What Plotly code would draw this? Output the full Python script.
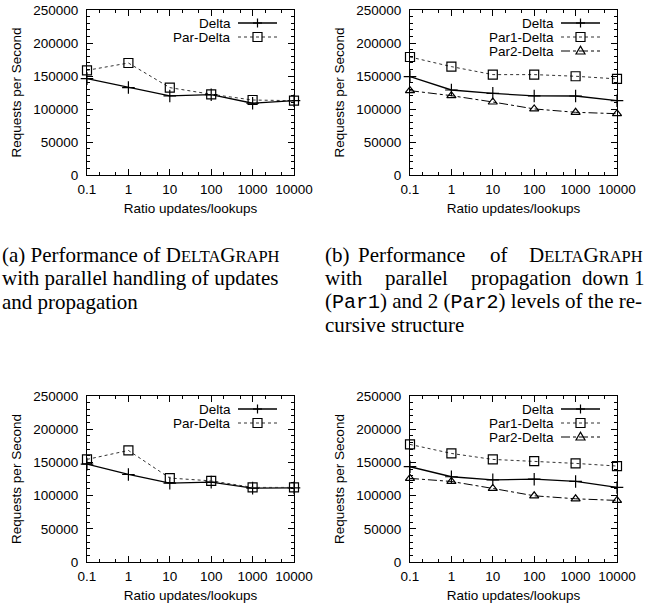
import plotly.graph_objects as go

# ---------------- data ----------------
ratio = [0.1, 1, 10, 100, 1000, 10000]
tick_labels = ["0.1", "1", "10", "100", "1000", "10000"]

# (a) top-left
a_delta = [146000, 132500, 119800, 121700, 108700, 112600]
a_par = [158600, 169700, 132400, 122300, 113600, 112600]

# (b) top-right
b_delta = [149000, 128800, 123700, 119800, 119700, 112600]
b_par1 = [178800, 164200, 152100, 152100, 149600, 145600]
b_par2 = [127800, 120200, 110600, 100100, 95000, 92900]

# (c) bottom-left
c_delta = [147400, 131800, 118800, 120300, 111300, 111700]
c_par = [154500, 168000, 126400, 122200, 112300, 112300]

# (d) bottom-right
d_delta = [143500, 128400, 123800, 124700, 121300, 112300]
d_par1 = [177100, 163500, 154500, 152000, 148500, 144500]
d_par2 = [125900, 121300, 110800, 99700, 95200, 92700]

W, H = 646, 607
SANS = "Liberation Sans, Arial, sans-serif"
SERIF = "Liberation Serif, Times New Roman, serif"

# plot-area boxes in pixels: (left, right, top, bottom)
boxes = [
    (87, 294, 10, 175),
    (410, 617, 10, 175),
    (87, 294, 396, 562),
    (410, 617, 396, 562),
]

fig = go.Figure()

styles = {
    "Delta": dict(line=dict(color="black", width=1.3, dash="solid"),
                  marker=dict(symbol="cross-thin", size=9, color="black",
                              line=dict(color="black", width=1.2))),
    "Par": dict(line=dict(color="#333333", width=1, dash="dot"),
                marker=dict(symbol="square-open", size=9, color="black",
                            line=dict(color="black", width=1.2))),
    "Par2": dict(line=dict(color="black", width=1, dash="dashdot"),
                 marker=dict(symbol="triangle-up-open", size=8, color="black",
                             line=dict(color="black", width=1.2))),
}

panels = [
    [("Delta", a_delta, "Delta"), ("Par-Delta", a_par, "Par")],
    [("Delta", b_delta, "Delta"), ("Par1-Delta", b_par1, "Par"), ("Par2-Delta", b_par2, "Par2")],
    [("Delta", c_delta, "Delta"), ("Par-Delta", c_par, "Par")],
    [("Delta", d_delta, "Delta"), ("Par1-Delta", d_par1, "Par"), ("Par2-Delta", d_par2, "Par2")],
]

shapes = []
annotations = []


def px_x(p):
    return p / W


def px_y(p):
    return 1 - p / H


def legend_entry(name, st, box, row):
    l, r, t, b = box
    yc = t + 13 + 14 * row
    s = styles[st]
    annotations.append(dict(
        text=name, x=px_x(r - 62), y=px_y(yc), xref="paper", yref="paper",
        xanchor="right", yanchor="middle", showarrow=False, height=14, borderpad=0,
        font=dict(family=SANS, size=13.5, color="black"),
    ))
    shapes.append(dict(
        type="line", xref="paper", yref="paper",
        x0=px_x(r - 56), x1=px_x(r - 17), y0=px_y(yc), y1=px_y(yc),
        line=dict(color=s["line"]["color"], width=s["line"]["width"], dash=s["line"]["dash"]),
    ))
    cx = px_x(r - 36.5)
    cy = px_y(yc)
    common = dict(xref="paper", yref="paper", xsizemode="pixel", ysizemode="pixel",
                  xanchor=cx, yanchor=cy, line=dict(color="black", width=1.2))
    if st == "Delta":
        shapes.append(dict(type="line", x0=-4.5, x1=4.5, y0=0, y1=0, **common))
        shapes.append(dict(type="line", x0=0, x1=0, y0=-4.5, y1=4.5, **common))
    elif st == "Par":
        shapes.append(dict(type="rect", x0=-4.5, x1=4.5, y0=-4.5, y1=4.5, **common))
    else:
        shapes.append(dict(type="path", path="M -4.5 -3 L 4.5 -3 L 0 4.8 Z", **common))


for i, (series, box) in enumerate(zip(panels, boxes)):
    n = "" if i == 0 else str(i + 1)
    for row, (name, vals, st) in enumerate(series):
        s = styles[st]
        fig.add_trace(go.Scatter(
            x=ratio, y=vals, name=name, mode="lines+markers",
            line=s["line"], marker=s["marker"], cliponaxis=False,
            xaxis="x" + n, yaxis="y" + n, showlegend=False,
        ))
        legend_entry(name, st, box, row)
    l, r, t, b = box
    xd = [l / W, r / W]
    yd = [1 - b / H, 1 - t / H]
    axcommon = dict(
        showline=True, linecolor="black", linewidth=1, mirror="ticks",
        ticks="inside", ticklen=6, tickcolor="black", tickwidth=1,
        showgrid=False, zeroline=False, automargin=False,
        tickfont=dict(family=SANS, size=13.5, color="black"),
    )
    fig.layout["xaxis" + n] = dict(
        axcommon, domain=xd, anchor="y" + n, type="log", range=[-1, 4],
        tickvals=ratio, ticktext=tick_labels, ticklabelstandoff=2,
        minor=dict(ticks="inside", ticklen=3, dtick="D2", tickcolor="black", showgrid=False),
        title=dict(text="Ratio updates/lookups", font=dict(family=SANS, size=13.5, color="black"), standoff=7),
    )
    fig.layout["yaxis" + n] = dict(
        axcommon, domain=yd, anchor="x" + n, range=[0, 250000],
        dtick=50000, tickformat="d", ticklabelstandoff=5,
        minor=dict(ticks="inside", ticklen=3, dtick=10000, tickcolor="black", showgrid=False),
        title=dict(text="Requests per Second", font=dict(family=SANS, size=13.5, color="black"), standoff=8),
    )

# ---------------- captions ----------------
SC = "font-size:16.5px"
DG = f"D<span style='{SC}'>ELTA</span>G<span style='{SC}'>RAPH</span>"
MONO = "font-family:Liberation Mono;font-size:20px"


def ann(text, px, py, anchor="left"):
    annotations.append(dict(
        text=text, x=px / W, y=1 - py / H, xref="paper", yref="paper",
        xanchor=anchor, yanchor="middle", showarrow=False, borderpad=0,
        font=dict(family=SERIF, size=21, color="black"),
    ))


# (a)
ann("(a) Performance of " + DG, 1, 254.5)
ann("with parallel handling of updates", 1, 278)
ann("and propagation", 1, 301.5)

# (b) justified lines
ann("(b)", 324, 254.5)
ann("Performance", 411.5, 254.5, "center")
ann("of", 499, 254.5, "center")
ann(DG, 644, 254.5, "right")
ann("with", 324, 278)
ann("parallel", 416, 278, "center")
ann("propagation", 521.5, 278, "center")
ann("down", 605, 278, "center")
ann("1", 646, 278, "right")
ann(f"(<span style='{MONO}'>Par1</span>) and 2 (<span style='{MONO}'>Par2</span>) levels of the re-", 324, 301.5)
ann("cursive structure", 324, 325)

fig.update_layout(
    width=W, height=H, margin=dict(l=0, r=0, t=0, b=0),
    paper_bgcolor="white", plot_bgcolor="white",
    showlegend=False, shapes=shapes, annotations=annotations,
)

fig.write_html(
    "out.html",
    config={"displayModeBar": False},
    post_script="document.body.style.margin='0px';document.body.style.padding='0px';",
)
